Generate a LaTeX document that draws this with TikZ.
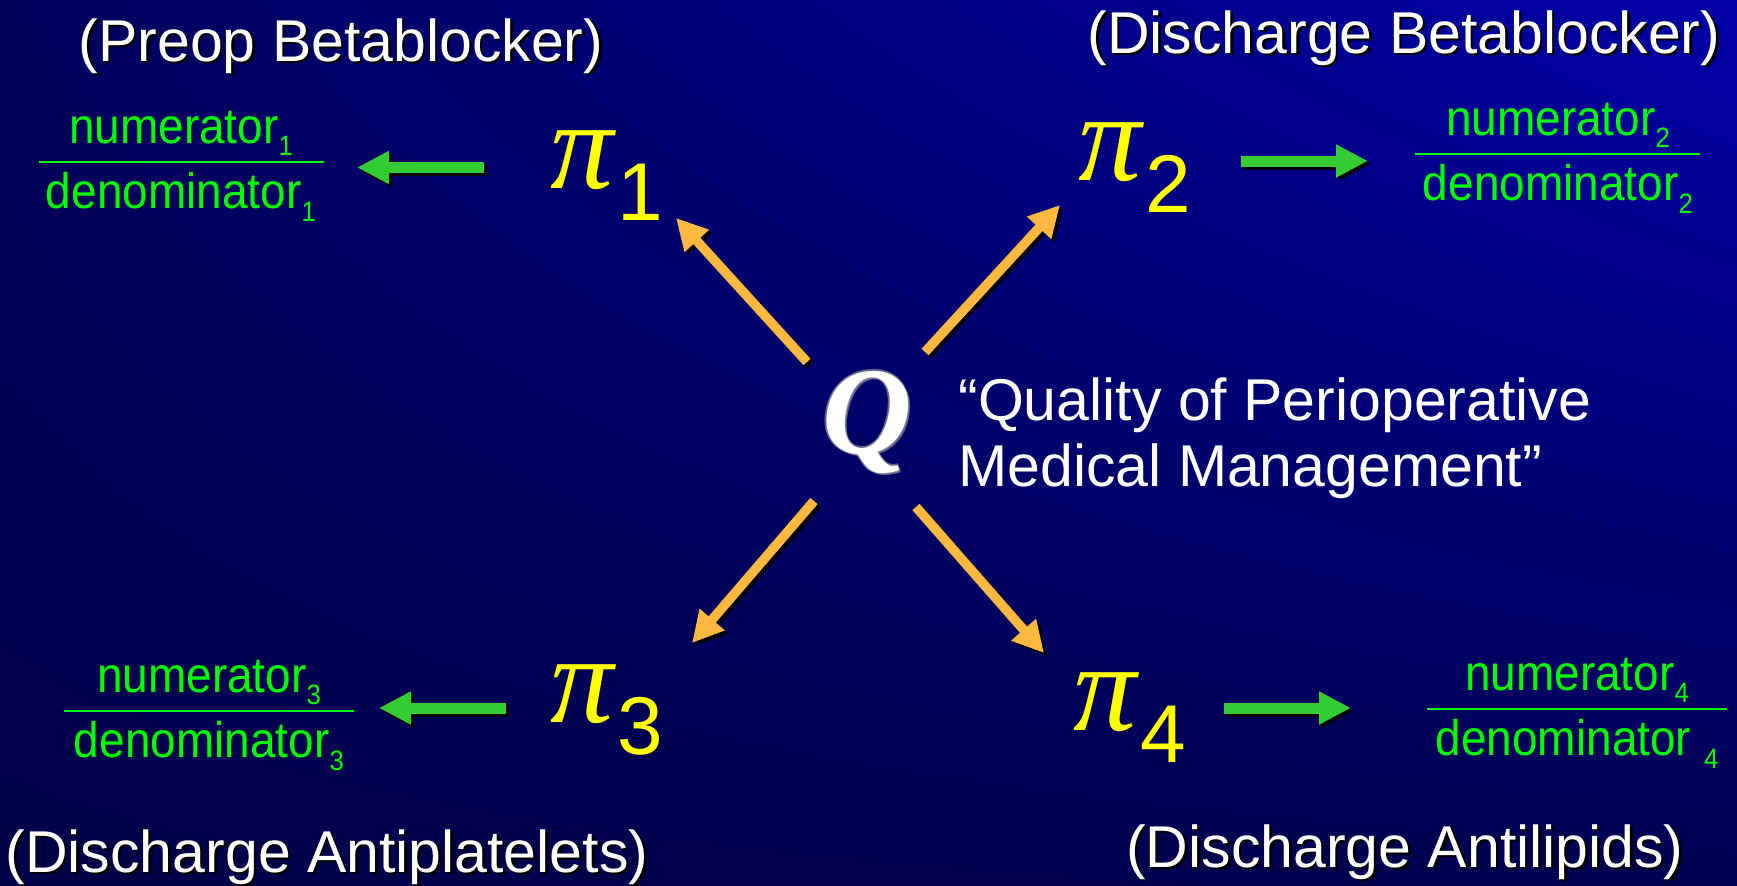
\documentclass[tikz,border=0pt]{standalone}
\usepackage{fontspec}
\setmainfont{Liberation Sans}
\newfontfamily\piserif{Liberation Serif}
\newfontfamily\fracfont{Liberation Sans}[FakeStretch=0.92]
\usetikzlibrary{arrows.meta,shadings}
\definecolor{bgUL}{RGB}{0,0,92}
\definecolor{bgUR}{RGB}{0,0,168}
\definecolor{bgLL}{RGB}{0,0,72}
\definecolor{bgLR}{RGB}{0,0,80}
\definecolor{arrowgreen}{RGB}{51,204,51}
\definecolor{textgreen}{RGB}{0,255,0}
\definecolor{arroworange}{RGB}{255,184,64}
\definecolor{piyellow}{RGB}{255,255,0}
\tikzset{
  titletext/.style={text=white, inner sep=0pt, anchor=base, font=\fontsize{29.5}{35}\selectfont},
  titleshadow/.style={text=black, inner sep=0pt, anchor=base, font=\fontsize{29.5}{35}\selectfont},
  fractext/.style={text=textgreen, inner sep=0pt, anchor=base, font=\fracfont\fontsize{25}{30}\selectfont},
  fracbar/.style={draw=textgreen, line width=1pt},
  pitext/.style={text=piyellow, inner sep=0pt, anchor=base west},
  garrow/.style={draw=arrowgreen, line width=5.5pt, -{Triangle[length=16pt,width=15.5pt]}},
  oarrow/.style={draw=arroworange, line width=4.75pt, -{Triangle[length=15.5pt,width=15.5pt]}},
  shadowcopy/.style={draw=black, transform canvas={shift={(1.5pt,-1.5pt)}}},
}
\newcommand\subdig[2]{{\fracfont\fontsize{14}{14}\selectfont\raisebox{#1}{#2}}}
\newcommand\pisym[1]{{\piserif\itshape\fontsize{63}{63}\selectfont π}\hspace{2pt}\raisebox{-16pt}{\fontsize{41}{41}\selectfont #1}}
\begin{document}
\begin{tikzpicture}[x=0.5pt,y=-0.5pt]
\useasboundingbox (0,0) rectangle (1737,885);
\shade[upper left=bgUL, upper right=bgUR, lower left=bgLL, lower right=bgLR] (0,0) rectangle (1737,885);

% titles
\foreach \x/\y/\t in {341/61/{(Preop Betablocker)}, 1404/53/{(Discharge Betablocker)}, 327/872/{(Discharge Antiplatelets)}, 1405/867/{(Discharge Antilipids)}}{
  \node[titleshadow] at ([shift={(2.5,2.5)}]\x,\y) {\t};
}
\node[titletext] (t1) at (341,61) {(Preop Betablocker)};
\node[titletext] (t2) at (1404,53) {(Discharge Betablocker)};
\node[titletext] (t3) at (327,872) {(Discharge Antiplatelets)};
\node[titletext] (t4) at (1405,867) {(Discharge Antilipids)};

% pi nodes
\node[pitext] (p1) at (550,188) {\pisym{1}};
\node[pitext] (p2) at (1078,180) {\pisym{2}};
\node[pitext] (p3) at (550,722) {\pisym{3}};
\node[pitext] (p4) at (1073,730) {\pisym{4}};

% fractions
\node[fractext] (n1) at (181,143) {numerator\subdig{-6pt}{1}};
\draw[fracbar] (39,162) -- (324,162);
\node[fractext] (d1) at (181,208) {denominator\subdig{-6.5pt}{1}};

\node[fractext] (n2) at (1558,135) {numerator\subdig{-6pt}{2}};
\draw[fracbar] (1415,154) -- (1700,154);
\node[fractext] (d2) at (1558,200) {denominator\subdig{-6.5pt}{2}};

\node[fractext] (n3) at (209,692) {numerator\subdig{-6pt}{3}};
\draw[fracbar] (64,711) -- (354,711);
\node[fractext] (d3) at (209,757) {denominator\subdig{-6.5pt}{3}};

\node[fractext] (n4) at (1577,690) {numerator\subdig{-6pt}{4}};
\draw[fracbar] (1427,709) -- (1727,709);
\node[fractext] (d4) at (1577,755) {denominator \subdig{-6.5pt}{4}};

% Q with soft glow
\foreach \dx/\dy in {-1.5/0, 1.5/0, 0/-1.5, 0/1.5, 2/2}{
  \node[text=gray!70, opacity=0.6, inner sep=0pt, anchor=base, font=\piserif\bfseries\itshape\fontsize{62}{62}\selectfont] at ([shift={(\dx,\dy)}]867,453) {Q};
}
\node[text=white, inner sep=0pt, anchor=base, font=\piserif\bfseries\itshape\fontsize{62}{62}\selectfont] (Q) at (867,453) {Q};

% quality label
\node[text=white, inner sep=0pt, anchor=north west, align=left, font=\fontsize{29.5}{33}\selectfont] (lab) at (958,377) {“Quality of Perioperative\\Medical Management”};

% coordinates for connectors
\coordinate (o1s) at (807,362); \coordinate (o1e) at (676,218);
\coordinate (o2s) at (925,352); \coordinate (o2e) at (1060,205);
\coordinate (o3s) at (814,501); \coordinate (o3e) at (692,643);
\coordinate (o4s) at (916,507); \coordinate (o4e) at (1044,653);
\coordinate (g1s) at (484,167.5); \coordinate (g1e) at (357,167.5);
\coordinate (g2s) at (1241,161); \coordinate (g2e) at (1368,161);
\coordinate (g3s) at (506,708); \coordinate (g3e) at (379,708);
\coordinate (g4s) at (1224,708); \coordinate (g4e) at (1351,708);

% orange arrows from Q to pi nodes
\foreach \i in {1,2,3,4}{
  \draw[oarrow, shadowcopy] (o\i s) -- (o\i e);
}
\foreach \i in {1,2,3,4}{
  \draw[oarrow] (o\i s) -- (o\i e);
}
% green arrows from pi nodes to fractions
\foreach \i in {1,2,3,4}{
  \draw[garrow, shadowcopy] (g\i s) -- (g\i e);
}
\foreach \i in {1,2,3,4}{
  \draw[garrow] (g\i s) -- (g\i e);
}
\end{tikzpicture}
\end{document}
